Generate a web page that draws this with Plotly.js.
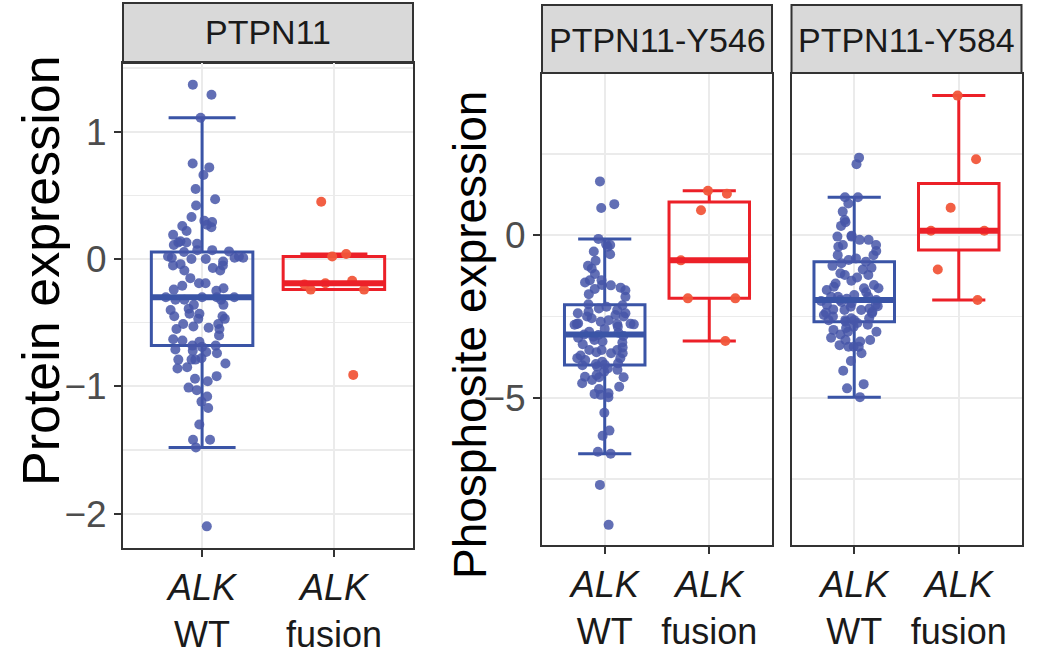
<!DOCTYPE html>
<html>
<head>
<meta charset="utf-8">
<script src="https://cdn.plot.ly/plotly-3.0.1.min.js"></script>
<style>html,body{margin:0;padding:0;background:#fff;}#chart{width:1038px;height:657px;}</style>
</head>
<body>
<div id="chart"></div>
<script>
// ---------- data ----------
const groups = ['WT', 'fusion'];
const groupLabels = ['<i>ALK</i><br>WT', '<i>ALK</i><br>fusion'];
const panelTitles = ['PTPN11', 'PTPN11-Y546', 'PTPN11-Y584'];
const yTitles = ['Protein expression', 'Phosphosite expression'];

const proteinWT = [1.29,1.37,1.11,0.75,0.72,0.66,0.55,0.47,0.42,0.27,0.33,0.26,0.30,0.29,0.25,0.22,0.19,0.14,0.13,0.13,0.12,0.11,0.07,0.07,0.06,
  0.055,0.02,0.01,0.01,0.00,0.01,0.00,0.02,-0.02,-0.05,-0.04,-0.09,-0.07,-0.05,-0.09,-0.15,-0.19,-0.19,-0.21,-0.23,-0.24,-0.25,
  -0.30,-0.30,-0.30,-0.30,-0.32,-0.32,-0.32,
  -0.36,-0.39,-0.36,-0.40,-0.43,-0.45,-0.47,-0.47,-0.43,-0.45,-0.51,-0.55,-0.55,-0.51,-0.53,-0.54,-0.60,-0.63,-0.64,-0.65,-0.68,-0.68,
  -0.69,-0.73,-0.74,-0.72,-0.71,-0.79,-0.82,-0.79,-0.79,-0.78,-0.86,-0.85,-0.92,-0.94,-1.01,-0.96,-1.03,-1.12,-1.17,-1.08,-1.30,-1.42,-1.42,-1.48,-2.10];
const proteinFusion = [0.45,0.04,0.02,-0.17,-0.19,-0.20,-0.24,-0.24,-0.91];

const y546WT = [1.66,0.84,0.96,-0.11,-0.27,-0.50,-0.58,-0.35,-0.30,-0.78,-0.94,-1.02,-1.19,-1.38,-1.38,-1.45,-1.54,-1.61,-1.65,-1.53,-1.69,-1.81,-1.89,-2.12,
  -2.15,-2.35,-2.40,-2.40,-2.30,-2.20,-2.50,-2.50,-2.55,-2.73,-2.73,-2.74,-2.72,-2.75,-2.71,-2.61,-2.66,-2.81,-2.97,-2.45,-2.25,-2.88,-3.00,
  -3.05,
  -3.07,-3.22,-3.27,-3.12,-3.63,-3.53,-3.53,-3.78,-3.89,-3.78,-3.84,-3.63,-3.53,-3.94,-3.15,-3.35,-3.45,-3.70,-3.98,-3.30,-3.60,-3.96,-3.10,
  -4.00,-4.14,-4.35,-4.30,-4.04,-4.37,-4.37,-4.66,-4.86,-4.73,-4.91,-4.88,-4.98,-5.46,-6.17,-6.01,-6.66,-6.72,-7.68,-8.91,-4.10,-4.20,-4.55,-4.45];
const y546Fusion = [1.37,1.28,0.77,-0.77,-1.94,-1.94,-3.25];

const y584WT = [2.39,2.19,1.17,1.17,0.98,0.73,0.47,0.29,0.40,-0.04,-0.14,-0.30,-0.14,-0.04,-0.01,-0.30,-0.35,-0.48,-0.61,-0.61,-0.71,-0.76,
  -0.81,-0.86,-0.94,-1.22,-1.17,-1.22,-1.40,-1.63,-1.48,-1.53,-1.63,-1.68,-1.89,-1.84,-1.89,-1.89,-1.05,-1.30,-1.75,-1.58,-1.00,-1.95,
  -1.99,-1.99,
  -2.14,-2.20,-2.09,-2.30,-2.35,-2.14,-2.30,-2.61,-2.55,-2.61,-2.55,-2.40,-2.61,-2.05,-2.25,-2.45,-2.50,-2.18,-2.38,-2.66,-2.28,-2.02,
  -2.70,-2.97,-2.91,-2.97,-2.81,-3.22,-3.27,-3.22,-3.43,-3.63,-3.43,-3.43,-3.38,-3.87,-4.17,-4.58,-4.71,-4.98,-2.75,-3.05,-3.15,-2.85];
const y584Fusion = [4.30,2.34,0.85,0.14,0.14,-1.05,-1.99];

// ---------- styling ----------
const FONT = 'Liberation Sans, Arial, Helvetica, sans-serif';
const blueLine = '#3a54a6', bluePt = 'rgba(70,86,168,0.85)';
const redLine = '#ec2028', redPt = 'rgba(241,86,58,0.95)';
const W = 1038, H = 657;
const px = v => v / W, py = v => 1 - v / H;

const panels = [
  {wt: proteinWT, fu: proteinFusion, xa: 'x', ya: 'y', x0: 123, x1: 413},
  {wt: y546WT, fu: y546Fusion, xa: 'x2', ya: 'y2', x0: 542, x1: 772},
  {wt: y584WT, fu: y584Fusion, xa: 'x3', ya: 'y3', x0: 791.5, x1: 1021.5}
];

function median(arr) {
  const s = arr.slice().sort((a, b) => a - b), n = s.length;
  return n % 2 ? s[(n - 1) / 2] : (s[n / 2 - 1] + s[n / 2]) / 2;
}

const traces = [], shapes = [];
const BOXW = 0.77;
panels.forEach(p => {
  [[p.wt, 0, blueLine, bluePt], [p.fu, 1, redLine, redPt]].forEach(([vals, gi, lc, pc]) => {
    traces.push({
      type: 'box', y: vals, x: vals.map(() => groups[gi]),
      xaxis: p.xa, yaxis: p.ya,
      boxpoints: 'all', jitter: 0.9, pointpos: 0,
      quartilemethod: 'inclusive',
      whiskerwidth: 0.66,
      line: {color: lc, width: 3},
      fillcolor: 'rgba(255,255,255,0)',
      marker: {color: pc, size: 10, line: {width: 0}},
      hoverinfo: 'skip', showlegend: false
    });
    shapes.push({
      type: 'line', xref: p.xa, yref: p.ya,
      x0: gi - BOXW / 2, x1: gi + BOXW / 2, y0: median(vals), y1: median(vals),
      line: {color: lc, width: 6}
    });
  });
});

// strips
const strips = [
  {x0: 123, x1: 413, y0: 3, y1: 63, t: panelTitles[0], ty: 32},
  {x0: 542, x1: 772, y0: 5, y1: 73, t: panelTitles[1], ty: 40},
  {x0: 791.5, x1: 1021.5, y0: 5, y1: 73, t: panelTitles[2], ty: 40}
];
const annotations = [];
strips.forEach(s => {
  shapes.push({type: 'rect', xref: 'paper', yref: 'paper', x0: px(s.x0), x1: px(s.x1), y0: py(s.y1), y1: py(s.y0),
    fillcolor: '#d9d9d9', line: {color: '#333333', width: 2}, layer: 'below'});
  annotations.push({xref: 'paper', yref: 'paper', x: px((s.x0 + s.x1) / 2), y: py(s.ty), text: s.t, showarrow: false,
    xanchor: 'center', yanchor: 'middle', font: {family: FONT, size: 34, color: '#1a1a1a'}});
});
annotations.push({xref: 'paper', yref: 'paper', x: px(41), y: py(271), text: yTitles[0], textangle: -90, showarrow: false,
  xanchor: 'center', yanchor: 'middle', font: {family: FONT, size: 52, color: '#000'}});
annotations.push({xref: 'paper', yref: 'paper', x: px(470), y: py(335), text: yTitles[1], textangle: -90, showarrow: false,
  xanchor: 'center', yanchor: 'middle', font: {family: FONT, size: 46, color: '#000'}});

const grid = '#ebebeb';
function xAxis(p) {
  return {
    domain: [px(p.x0), px(p.x1)], anchor: p.ya, type: 'category',
    categoryorder: 'array', categoryarray: groups, range: [-0.6, 1.6],
    tickmode: 'array', tickvals: groups, ticktext: groupLabels,
    showgrid: true, gridcolor: grid, gridwidth: 1.8, zeroline: false,
    showline: true, mirror: true, linecolor: '#333333', linewidth: 2,
    ticks: 'outside', ticklen: 7, tickwidth: 2, tickcolor: '#333333',
    tickfont: {family: FONT, size: 36, color: '#1a1a1a'}, fixedrange: true
  };
}
function yAxis(anchor, dom, range, dtick, showLabels) {
  return {
    domain: dom, anchor: anchor, range: range, tick0: 0, dtick: dtick,
    showgrid: true, gridcolor: grid, gridwidth: 1.8, zeroline: false,
    minor: {dtick: dtick / 2, showgrid: true, gridcolor: grid, gridwidth: 1.4, ticks: ''},
    showline: true, mirror: true, linecolor: '#333333', linewidth: 2,
    ticks: showLabels ? 'outside' : '', ticklen: 7, tickwidth: 2, tickcolor: '#333333',
    showticklabels: showLabels,
    tickfont: {family: FONT, size: 37, color: '#4d4d4d'}, fixedrange: true
  };
}

const rightDom = [py(545), py(73.5)];
const layout = {
  width: W, height: H, margin: {l: 0, r: 0, t: 0, b: 0},
  paper_bgcolor: '#fff', plot_bgcolor: '#fff', showlegend: false,
  boxmode: 'overlay', boxgap: 0.23, boxgroupgap: 0,
  xaxis: xAxis(panels[0]), xaxis2: xAxis(panels[1]), xaxis3: xAxis(panels[2]),
  yaxis: yAxis('x', [py(548), py(63)], [-2.27, 1.54], 1, true),
  yaxis2: yAxis('x2', rightDom, [-9.53, 4.98], 5, true),
  yaxis3: yAxis('x3', rightDom, [-9.53, 4.98], 5, false),
  shapes: shapes, annotations: annotations,
  font: {family: FONT}
};

Plotly.newPlot('chart', traces, layout, {staticPlot: true, displayModeBar: false});
</script>
</body>
</html>
